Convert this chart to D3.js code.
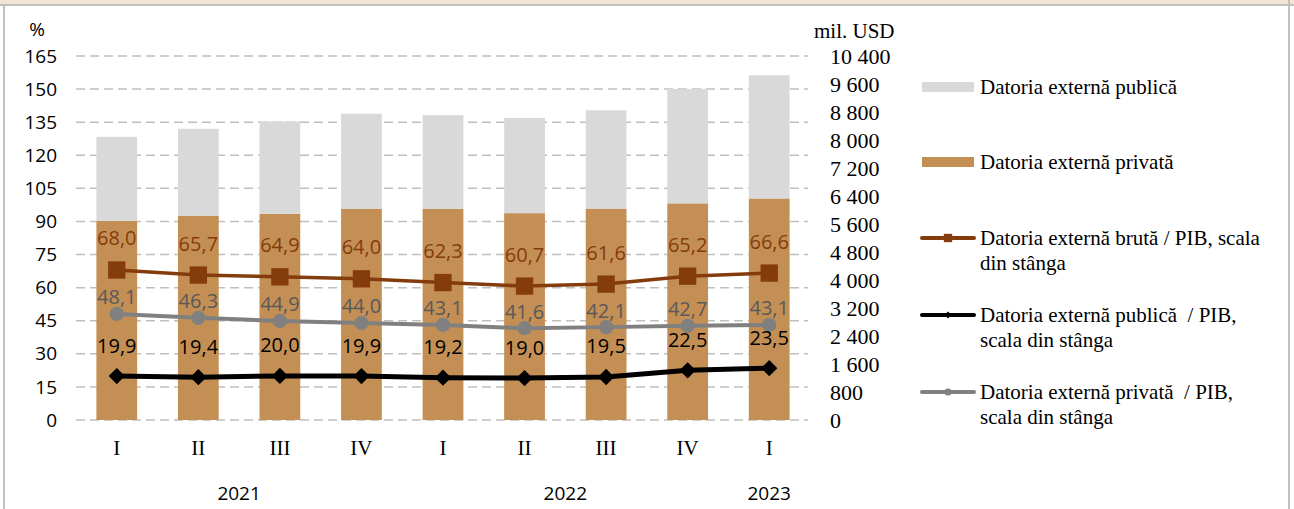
<!DOCTYPE html>
<html>
<head>
<meta charset="utf-8">
<script src="https://cdn.jsdelivr.net/npm/d3@7"></script>
<style>
	html, body { margin: 0; padding: 0; background: #fff; }
	svg { display: block; }
	text { white-space: pre; }
</style>
</head>
<body>
<div id="chart"></div>
<script>
const quarters = ['I', 'II', 'III', 'IV', 'I', 'II', 'III', 'IV', 'I'];
const years = [
	{ label: '2021', from: 1, to: 2 },
	{ label: '2022', from: 5, to: 6 },
	{ label: '2023', from: 8, to: 8 },
];

// mil. USD, right axis
const private_debt = [5690, 5840, 5890, 6030, 6030, 5910, 6040, 6190, 6330];
const public_debt = [2400, 2480, 2640, 2720, 2680, 2720, 2810, 3270, 3520];

// % of GDP, left axis
const gross_gdp = [68.0, 65.7, 64.9, 64.0, 62.3, 60.7, 61.6, 65.2, 66.6];
const public_gdp = [19.9, 19.4, 20.0, 19.9, 19.2, 19.0, 19.5, 22.5, 23.5];
const private_gdp = [48.1, 46.3, 44.9, 44.0, 43.1, 41.6, 42.1, 42.7, 43.1];

const left_ticks = [0, 15, 30, 45, 60, 75, 90, 105, 120, 135, 150, 165];
const right_ticks = [0, 800, 1600, 2400, 3200, 4000, 4800, 5600, 6400, 7200, 8000, 8800, 9600, 10400];

const width = 1294;
const height = 509;
const sans = "'Open Sans', 'Noto Sans', sans-serif";
const serif = "'Liberation Serif', 'DejaVu Serif', serif";

const colours = {
	pub: '#d9d9d9',
	priv: '#c48f55',
	gross: '#843c0c',
	publine: '#000000',
	privline: '#808080',
	grid: '#bfbfbf',
};

const svg = d3.select('#chart').append('svg')
	.attr('width', width)
	.attr('height', height);

// frame
svg.append('rect').attr('x', 0).attr('y', 0).attr('width', width).attr('height', 4).style('fill', '#f2e3d3');
svg.append('line').attr('x1', 0).attr('x2', width).attr('y1', 5).attr('y2', 5)
	.style('stroke', '#c0c0c0').style('stroke-width', 2);
svg.append('line').attr('x1', 4).attr('x2', 4).attr('y1', 5).attr('y2', height)
	.style('stroke', '#c0c0c0').style('stroke-width', 2);
svg.append('line').attr('x1', 1289).attr('x2', 1289).attr('y1', 0).attr('y2', height)
	.style('stroke', '#c0c0c0').style('stroke-width', 2);

const x = d3.scaleBand()
	.domain(d3.range(quarters.length))
	.range([76, 810])
	.paddingInner(0.5)
	.paddingOuter(0.25);

const y_left = d3.scaleLinear().domain([0, 165]).range([420, 56]);
const y_right = d3.scaleLinear().domain([0, 10400]).range([420, 56]);

const cx = i => x(i) + x.bandwidth() / 2;

// gridlines
svg.append('g')
	.selectAll('line')
	.data(left_ticks)
	.enter()
	.append('line')
	.attr('x1', 76)
	.attr('x2', 808)
	.attr('y1', d => y_left(d))
	.attr('y2', d => y_left(d))
	.style('stroke', colours.grid)
	.style('stroke-width', 1.5)
	.style('stroke-dasharray', '9,5');

// stacked bars
const stacked = d3.stack().keys(['priv', 'pub'])(
	quarters.map((q, i) => ({ priv: private_debt[i], pub: public_debt[i] }))
);

svg.append('g')
	.selectAll('g')
	.data(stacked)
	.enter()
	.append('g')
	.style('fill', d => colours[d.key])
	.selectAll('rect')
	.data(d => d)
	.enter()
	.append('rect')
	.attr('x', (d, i) => x(i))
	.attr('width', x.bandwidth())
	.attr('y', d => y_right(d[1]))
	.attr('height', d => y_right(d[0]) - y_right(d[1]));

// left axis
const left_axis = svg.append('g')
	.attr('transform', 'translate(57,0)')
	.call(d3.axisLeft(y_left).tickValues(left_ticks).tickSize(0).tickPadding(0));
left_axis.select('.domain').remove();
left_axis.selectAll('text')
	.style('font-family', sans)
	.style('font-size', '19px')
	.style('fill', '#000');

svg.append('text')
	.attr('x', 37)
	.attr('y', 36)
	.attr('text-anchor', 'middle')
	.style('font-family', sans)
	.style('font-size', '19px')
	.text('%');

// right axis
const fmt_space = v => d3.format(',')(v).replace(',', ' ');
const right_axis = svg.append('g')
	.attr('transform', 'translate(830,0)')
	.call(d3.axisRight(y_right).tickValues(right_ticks).tickSize(0).tickPadding(0).tickFormat(fmt_space));
right_axis.select('.domain').remove();
right_axis.selectAll('text')
	.style('font-family', serif)
	.style('font-size', '22px')
	.style('fill', '#000');

svg.append('text')
	.attr('x', 814)
	.attr('y', 38)
	.style('font-family', serif)
	.style('font-size', '21px')
	.text('mil. USD');

// x axis labels
svg.append('g')
	.selectAll('text')
	.data(quarters)
	.enter()
	.append('text')
	.attr('x', (d, i) => cx(i))
	.attr('y', 448)
	.attr('text-anchor', 'middle')
	.attr('dominant-baseline', 'central')
	.style('font-family', serif)
	.style('font-size', '21px')
	.text(d => d);

svg.append('g')
	.selectAll('text')
	.data(years)
	.enter()
	.append('text')
	.attr('x', d => (cx(d.from) + cx(d.to)) / 2)
	.attr('y', 493)
	.attr('text-anchor', 'middle')
	.attr('dominant-baseline', 'central')
	.style('font-family', sans)
	.style('font-size', '19px')
	.text(d => d.label);

// lines
const line = values => d3.line()
	.x((d, i) => cx(i))
	.y(d => y_left(d))(values);

const series = [
	{ key: 'gross', values: gross_gdp, colour: colours.gross, label_colour: '#843c0c', width: 3.5, marker: 'square', dy: -32 },
	{ key: 'privline', values: private_gdp, colour: colours.privline, label_colour: '#595959', width: 4, marker: 'circle', dy: -17 },
	{ key: 'publine', values: public_gdp, colour: colours.publine, label_colour: '#000000', width: 5, marker: 'diamond', dy: -31 },
];

const symbols = {
	square: d3.symbol().type(d3.symbolSquare).size(300),
	circle: d3.symbol().type(d3.symbolCircle).size(160),
	diamond: d3.symbol().type(d3.symbolDiamond2).size(170),
};

series.forEach(s => {
	const g = svg.append('g');
	g.append('path')
		.attr('d', line(s.values))
		.style('fill', 'none')
		.style('stroke', s.colour)
		.style('stroke-width', s.width)
		.style('stroke-linejoin', 'round');

	g.selectAll('path.marker')
		.data(s.values)
		.enter()
		.append('path')
		.attr('class', 'marker')
		.attr('transform', (d, i) => `translate(${cx(i)},${y_left(d)})`)
		.attr('d', symbols[s.marker])
		.style('fill', s.colour);
});

// data labels on top
series.forEach(s => {
	svg.append('g')
		.selectAll('text')
		.data(s.values)
		.enter()
		.append('text')
		.attr('x', (d, i) => cx(i))
		.attr('y', d => y_left(d) + s.dy)
		.attr('text-anchor', 'middle')
		.attr('dominant-baseline', 'central')
		.style('font-family', sans)
		.style('font-size', '20px')
		.style('fill', s.label_colour)
		.text(d => d3.format('.1f')(d).replace('.', ','));
});

// legend
const legend = svg.append('g');
const legend_items = [
	{ type: 'rect', colour: colours.pub, y: 87, lines: ['Datoria externă publică'] },
	{ type: 'rect', colour: colours.priv, y: 162, lines: ['Datoria externă privată'] },
	{ type: 'line', colour: colours.gross, marker: 'square', y: 238, lines: ['Datoria externă brută / PIB, scala', 'din stânga'] },
	{ type: 'line', colour: colours.publine, marker: 'diamond', y: 315, lines: ['Datoria externă publică  / PIB,', 'scala din stânga'] },
	{ type: 'line', colour: colours.privline, marker: 'circle', y: 392, lines: ['Datoria externă privată  / PIB,', 'scala din stânga'] },
];

const legend_symbols = {
	square: d3.symbol().type(d3.symbolSquare).size(70),
	circle: d3.symbol().type(d3.symbolCircle).size(40),
	diamond: d3.symbol().type(d3.symbolDiamond2).size(30),
};

legend_items.forEach(item => {
	if (item.type == 'rect') {
		legend.append('rect')
			.attr('x', 922)
			.attr('y', item.y - 5)
			.attr('width', 52)
			.attr('height', 10)
			.style('fill', item.colour);
	} else {
		legend.append('line')
			.attr('x1', 922)
			.attr('x2', 974)
			.attr('y1', item.y)
			.attr('y2', item.y)
			.style('stroke', item.colour)
			.style('stroke-width', 4)
			.style('stroke-linecap', 'round');
		legend.append('path')
			.attr('transform', `translate(948,${item.y})`)
			.attr('d', legend_symbols[item.marker])
			.style('fill', item.colour);
	}
	item.lines.forEach((t, k) => {
		legend.append('text')
			.attr('x', 980)
			.attr('y', item.y + k * 25)
			.attr('dominant-baseline', 'central')
			.style('font-family', serif)
			.style('font-size', '21px')
			.text(t);
	});
});
</script>
</body>
</html>
